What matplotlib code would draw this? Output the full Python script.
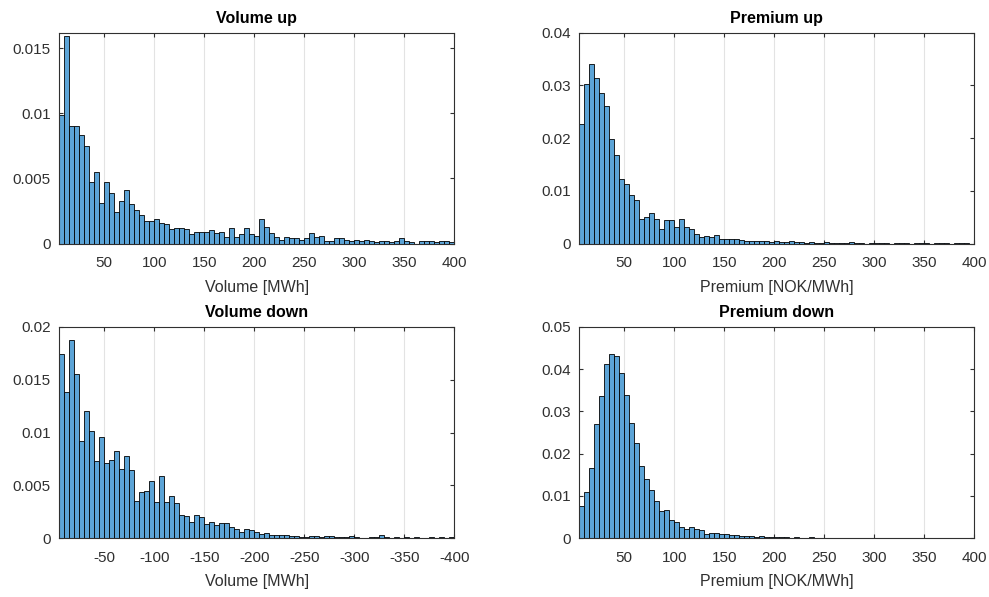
import numpy as np
import matplotlib
matplotlib.use("Agg")
import matplotlib.pyplot as plt
from matplotlib.ticker import FuncFormatter

plt.rcParams["font.family"] = ["Liberation Sans", "DejaVu Sans"]
plt.rcParams["axes.unicode_minus"] = False

# bin edges shared by all four histograms (width 5)
edges = np.arange(5, 405, 5)

# normalised histogram heights (pdf), one value per bin
vol_up = [
    0.0099, 0.0159, 0.0090, 0.0090, 0.0083, 0.0075, 0.0047, 0.0055, 0.0031, 0.0047,
    0.0039, 0.0024, 0.0033, 0.0041, 0.0030, 0.0026, 0.0022, 0.0017, 0.0017, 0.0019,
    0.0016, 0.0015, 0.0011, 0.0012, 0.0012, 0.0011, 0.0007, 0.0009, 0.0009, 0.0009,
    0.0010, 0.0008, 0.0009, 0.0005, 0.0012, 0.0005, 0.0007, 0.0012, 0.0007, 0.0006,
    0.0019, 0.0013, 0.0008, 0.0005, 0.00025, 0.0005, 0.0004, 0.0004, 0.0003, 0.0004,
    0.0008, 0.0005, 0.0006, 0.0002, 0.0002, 0.0004, 0.0004, 0.0003, 0.0002, 0.0003,
    0.0002, 0.0003, 0.0002, 0.0001, 0.0002, 0.0002, 0.0001, 0.0002, 0.0004, 0.0002,
    0.0001, 0.0000, 0.0002, 0.0002, 0.0002, 0.0001, 0.0002, 0.0002, 0.0001,
]
prem_up = [
    0.0226, 0.0303, 0.0341, 0.0313, 0.0286, 0.0261, 0.0199, 0.0167, 0.0123, 0.0113,
    0.0091, 0.0083, 0.0047, 0.0050, 0.0057, 0.0047, 0.0028, 0.0044, 0.0044, 0.0032,
    0.0047, 0.0032, 0.0027, 0.0018, 0.0013, 0.0014, 0.0013, 0.0016, 0.0009, 0.0009,
    0.0009, 0.0008, 0.0007, 0.0005, 0.0004, 0.0004, 0.0005, 0.0004, 0.0003, 0.0004,
    0.0003, 0.0002, 0.0004, 0.0003, 0.0002, 0.0001, 0.0002, 0.0001, 0.0001, 0.0002,
    0.0001, 0.0001, 0.0001, 0.0001, 0.0002, 0.0001, 0.0001, 0.0000, 0.0001, 0.0001,
    0.0001, 0.0001, 0.0000, 0.0001, 0.0001, 0.0001, 0.0000, 0.0001, 0.0001, 0.0001,
    0.0000, 0.0001, 0.0001, 0.0001, 0.0000, 0.0001, 0.0001, 0.0001, 0.0000,
]
vol_down = [
    0.0174, 0.0138, 0.0188, 0.0155, 0.0092, 0.0120, 0.0101, 0.0073, 0.0096, 0.0071,
    0.0074, 0.0082, 0.0065, 0.0078, 0.0064, 0.0035, 0.0044, 0.0045, 0.0054, 0.0034,
    0.0059, 0.0034, 0.0040, 0.0033, 0.0022, 0.0021, 0.0015, 0.0022, 0.0020, 0.0013,
    0.0015, 0.0012, 0.0014, 0.0014, 0.0010, 0.0009, 0.0006, 0.0009, 0.0008, 0.0006,
    0.0004, 0.0005, 0.0003, 0.0003, 0.0003, 0.0003, 0.0002, 0.0002, 0.0001, 0.0001,
    0.0002, 0.0002, 0.0001, 0.0002, 0.0002, 0.0001, 0.0001, 0.0001, 0.0002, 0.0001,
    0.0000, 0.0000, 0.0001, 0.0001, 0.0003, 0.0001, 0.0000, 0.0001, 0.0000, 0.0001,
    0.0000, 0.0001, 0.0000, 0.0000, 0.0001, 0.0000, 0.0001, 0.0000, 0.0001,
]
prem_down = [
    0.0076, 0.0108, 0.0165, 0.0269, 0.0336, 0.0412, 0.0437, 0.0432, 0.0390, 0.0339,
    0.0273, 0.0226, 0.0171, 0.0140, 0.0113, 0.0087, 0.0063, 0.0066, 0.0043, 0.0039,
    0.0027, 0.0021, 0.0026, 0.0022, 0.0018, 0.0010, 0.0013, 0.0013, 0.0009, 0.0010,
    0.0007, 0.0007, 0.0005, 0.0004, 0.0005, 0.0003, 0.0004, 0.0003, 0.0002, 0.0003,
    0.0002, 0.0002, 0.0001, 0.0002, 0.0001, 0.0001, 0.0002, 0.0001, 0.0001, 0.0001,
    0.0001, 0.0001, 0.0001, 0.0000, 0.0001, 0.0001, 0.0001, 0.0000, 0.0001, 0.0001,
    0.0000, 0.0001, 0.0000, 0.0001, 0.0000, 0.0001, 0.0000, 0.0000, 0.0001, 0.0000,
    0.0000, 0.0001, 0.0000, 0.0000, 0.0001, 0.0000, 0.0000, 0.0001, 0.0000,
]

titles = ["Volume up", "Premium up", "Volume down", "Premium down"]
xlabels = ["Volume [MWh]", "Premium [NOK/MWh]", "Volume [MWh]", "Premium [NOK/MWh]"]
yticks = [
    [0, 0.005, 0.01, 0.015],
    [0, 0.01, 0.02, 0.03, 0.04],
    [0, 0.005, 0.01, 0.015, 0.02],
    [0, 0.01, 0.02, 0.03, 0.04, 0.05],
]
ytops = [0.0162, 0.04, 0.02, 0.05]
xticks = np.arange(50, 450, 50)

BAR = "#5ca4d7"
AX = "#303030"

fig = plt.figure(figsize=(9.89, 5.97), dpi=100)
W, H = 395 / 989, 211 / 597
positions = [
    (59.3 / 989, 1 - 243.5 / 597, W, H),
    (579.3 / 989, 1 - 243.5 / 597, W, H),
    (59.3 / 989, 1 - 538 / 597, W, H),
    (579.3 / 989, 1 - 538 / 597, W, H),
]
series = [vol_up, prem_up, vol_down, prem_down]

for i, (pos, h) in enumerate(zip(positions, series)):
    ax = fig.add_axes(pos)
    h = np.asarray(h)
    # the "down" volume is a negative quantity, plotted on a reversed axis
    sign = -1 if i == 2 else 1
    left = sign * edges[:-1]
    ax.bar(left, h, width=sign * 5, align="edge", color=BAR,
           edgecolor="black", linewidth=0.6, zorder=2)
    if sign < 0:
        ax.set_xlim(-5, -400)
        ax.set_xticks(-xticks)
    else:
        ax.set_xlim(5, 400)
        ax.set_xticks(xticks)
    ax.set_ylim(0, ytops[i])
    ax.set_yticks(yticks[i])
    ax.yaxis.set_major_formatter(FuncFormatter(lambda v, p: f"{v:g}"))
    ax.xaxis.set_major_formatter(FuncFormatter(lambda v, p: f"{v:g}"))
    ax.grid(axis="x", color="#e3e3e3", linewidth=0.8, zorder=0)
    ax.set_axisbelow(True)
    for s in ax.spines.values():
        s.set_color(AX)
        s.set_linewidth(0.8)
    ax.tick_params(direction="in", length=3, width=0.8, color=AX,
                   labelcolor=AX, labelsize=11, top=True, right=True)
    ax.tick_params(axis="x", pad=9)
    ax.tick_params(axis="y", pad=6)
    ax.set_title(titles[i], fontsize=11.5, fontweight="bold", color="black", pad=7)
    ax.set_xlabel(xlabels[i], fontsize=11.5, color=AX, labelpad=7)

fig.savefig("out.png", dpi=100)
plt.close(fig)
